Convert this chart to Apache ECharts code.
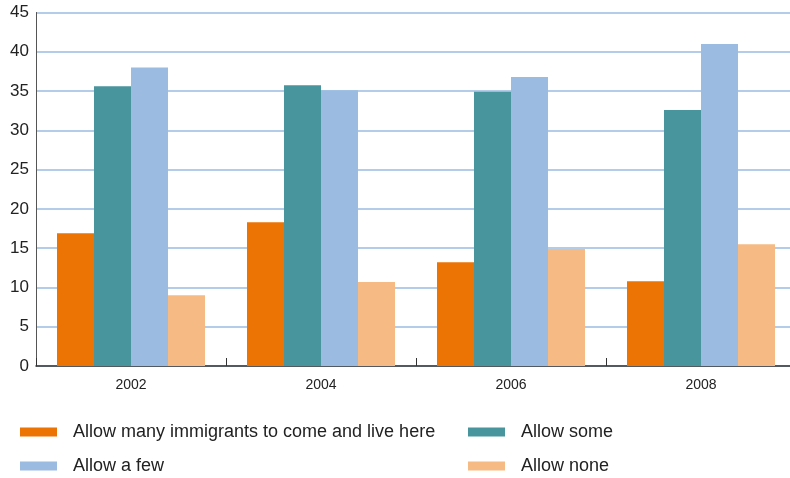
<!DOCTYPE html>
<html>
<head>
<meta charset="utf-8">
<style>html,body{margin:0;padding:0;background:#fff;overflow:hidden;}#c{width:796px;height:478px;}</style>
<script src="https://cdn.jsdelivr.net/npm/echarts@6/dist/echarts.min.js"></script>
</head>
<body>
<div id="c"></div>
<script>
var categories = ['2002', '2004', '2006', '2008'];
var seriesNames = ['Allow many immigrants to come and live here', 'Allow some', 'Allow a few', 'Allow none'];
var allowMany = [16.9, 18.3, 13.2, 10.8];
var allowSome = [35.6, 35.75, 34.9, 32.6];
var allowFew = [38.0, 35.1, 36.8, 41.0];
var allowNone = [9.0, 10.7, 14.9, 15.5];
var yTicks = [0, 5, 10, 15, 20, 25, 30, 35, 40, 45];

var colors = ['#EC7404', '#49959E', '#9BBCE0', '#F6BB84'];
var values = [allowMany, allowSome, allowFew, allowNone];
var font = '"Liberation Sans", Arial, Helvetica, sans-serif';

var legendPos = [
  {left: 20, top: 423},
  {left: 468, top: 423},
  {left: 20, top: 457},
  {left: 468, top: 457}
];
var legends = seriesNames.map(function (n, i) {
  return {
    data: [n],
    left: legendPos[i].left,
    top: legendPos[i].top,
    padding: 0,
    icon: 'rect',
    itemWidth: 37,
    itemHeight: 9,
    selectedMode: false,
    textStyle: {fontFamily: font, fontSize: 18, color: '#222', padding: [0, 0, 0, 11]}
  };
});

var chart = echarts.init(document.getElementById('c'));
chart.setOption({
  animation: false,
  color: colors,
  legend: legends,
  grid: {left: 36, top: 12.5, right: 0, bottom: 112, containLabel: false},
  xAxis: {
    type: 'category',
    data: categories,
    axisLine: {lineStyle: {color: '#333', width: 1.5}},
    axisTick: {show: true, inside: true, length: 8, lineStyle: {color: '#333', width: 1}},
    axisLabel: {fontFamily: font, fontSize: 14, color: '#222', margin: 12},
    splitLine: {show: false}
  },
  yAxis: {
    type: 'value',
    min: yTicks[0],
    max: yTicks[yTicks.length - 1],
    interval: 5,
    axisLine: {show: true, lineStyle: {color: '#555', width: 1}},
    axisTick: {show: false},
    axisLabel: {fontFamily: font, fontSize: 17, color: '#222', margin: 7},
    splitLine: {lineStyle: {color: '#B3CDE9', width: 2}}
  },
  series: values.map(function (v, i) {
    return {
      name: seriesNames[i],
      type: 'bar',
      data: v,
      barWidth: 37,
      barGap: '0%',
      itemStyle: {color: colors[i]}
    };
  })
});
</script>
</body>
</html>
